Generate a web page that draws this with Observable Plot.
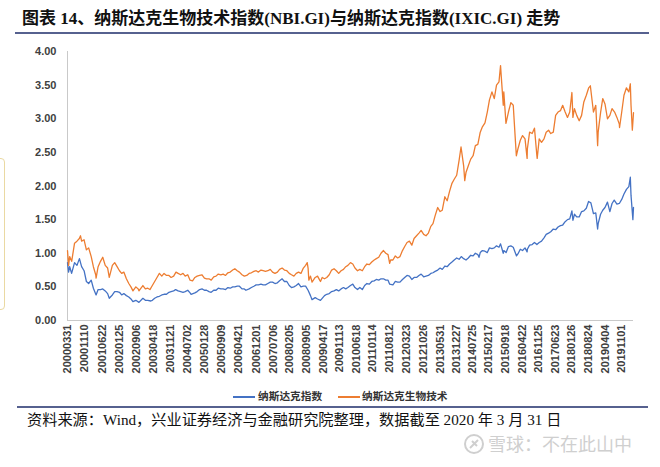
<!DOCTYPE html>
<html><head><meta charset="utf-8">
<script src="https://cdn.jsdelivr.net/npm/d3@7"></script>
<script src="https://cdn.jsdelivr.net/npm/@observablehq/plot@0.6"></script>
<style>
body{margin:0;background:#fff;}
#wrap{position:relative;width:660px;height:467px;overflow:hidden;background:#fff;}
#title{position:absolute;left:22px;top:8px;font:bold 17px "Liberation Serif","Noto Sans CJK SC",serif;color:#111;white-space:nowrap;line-height:22px;}
.rule{position:absolute;left:15px;width:634px;height:2px;background:#56618f;}
#chart{position:absolute;left:0;top:40px;}
#legend{position:absolute;top:388px;left:0;width:660px;height:16px;font:bold 10.7px "Noto Sans CJK SC",sans-serif;color:#333;}
.sw{position:absolute;top:8px;width:22px;height:2px;}
.lt{position:absolute;top:0;line-height:16px;white-space:nowrap;}
#source{position:absolute;left:27px;top:411px;font:15.2px "Liberation Serif","Noto Sans CJK SC",serif;color:#111;white-space:nowrap;line-height:18px;}
#wm{position:absolute;left:463px;top:432px;font:18px "Noto Sans CJK SC",sans-serif;color:#cfcfcf;white-space:nowrap;line-height:22px;}
#bracket{position:absolute;left:-10px;top:158px;width:13px;height:150px;border:1.5px solid #ead9a2;border-radius:4px;}
</style></head><body>
<div id="wrap">
  <div id="title">图表 14、纳斯达克生物技术指数(NBI.GI)与纳斯达克指数(IXIC.GI) 走势</div>
  <div class="rule" style="top:32px"></div>
  <div id="bracket"></div>
  <div id="chart"></div>
  <div id="legend"></div>
  <div class="rule" style="top:406px;left:17px;width:631px;height:1.5px"></div>
  <div id="source">资料来源：Wind，兴业证券经济与金融研究院整理，数据截至 2020 年 3 月 31 日</div>
  <div id="wm"><svg width="22" height="22" viewBox="0 0 22 22" style="vertical-align:-4px;margin-right:3px"><circle cx="11" cy="11" r="9" fill="none" stroke="#cfcfcf" stroke-width="2"/><path d="M7 15 L15 7 M9 8 L14 13" stroke="#cfcfcf" stroke-width="2" fill="none"/></svg>雪球：不在此山中</div>
</div>
<script>
const seriesNames = ["纳斯达克指数", "纳斯达克生物技术"];
const seriesColors = ["#4472C4", "#ED7D31"];
const yTicks = [0, 0.5, 1, 1.5, 2, 2.5, 3, 3.5, 4];
const xTickLabels = ["20000331","20001110","20010622","20020125","20020906","20030418","20031121","20040702","20050128","20050909","20060421","20061201","20070706","20080205","20080905","20090417","20091113","20100618","20110114","20110812","20120323","20121026","20130531","20131227","20140725","20150217","20150918","20160422","20161125","20170623","20180126","20180824","20190404","20191101"];

const ixicDates = ["2000-03-31","2000-04-14","2000-04-28","2000-05-23","2000-06-30","2000-07-31","2000-09-01","2000-09-29","2000-10-31","2000-11-30","2000-12-29","2001-01-31","2001-02-28","2001-04-04","2001-04-30","2001-05-31","2001-06-29","2001-07-31","2001-08-31","2001-09-21","2001-10-31","2001-11-30","2001-12-31","2002-01-31","2002-02-28","2002-03-28","2002-04-30","2002-05-31","2002-06-28","2002-07-23","2002-08-30","2002-10-09","2002-11-29","2002-12-31","2003-01-31","2003-03-11","2003-03-31","2003-04-30","2003-05-30","2003-06-30","2003-07-31","2003-08-29","2003-09-30","2003-10-31","2003-11-28","2003-12-31","2004-01-26","2004-02-27","2004-03-31","2004-04-30","2004-05-28","2004-06-30","2004-07-30","2004-08-12","2004-09-30","2004-10-29","2004-11-30","2004-12-31","2005-01-31","2005-02-28","2005-03-31","2005-04-28","2005-05-31","2005-06-30","2005-07-29","2005-08-31","2005-09-30","2005-10-31","2005-11-30","2005-12-30","2006-01-31","2006-02-28","2006-03-31","2006-04-28","2006-05-31","2006-06-30","2006-07-21","2006-08-31","2006-09-29","2006-10-31","2006-11-30","2006-12-29","2007-01-31","2007-02-28","2007-03-30","2007-04-30","2007-05-31","2007-06-29","2007-07-31","2007-08-31","2007-09-28","2007-10-31","2007-11-30","2007-12-31","2008-01-31","2008-02-29","2008-03-31","2008-04-30","2008-05-30","2008-06-30","2008-07-31","2008-08-29","2008-09-30","2008-10-31","2008-11-20","2008-12-31","2009-01-30","2009-03-09","2009-03-31","2009-04-30","2009-05-29","2009-06-30","2009-07-31","2009-08-31","2009-09-30","2009-10-30","2009-11-30","2009-12-31","2010-01-29","2010-02-26","2010-03-31","2010-04-30","2010-05-28","2010-06-30","2010-07-30","2010-08-31","2010-09-30","2010-10-29","2010-11-30","2010-12-31","2011-01-31","2011-02-28","2011-03-31","2011-04-29","2011-05-31","2011-06-30","2011-07-29","2011-08-19","2011-09-30","2011-10-31","2011-11-30","2011-12-30","2012-01-31","2012-02-29","2012-03-30","2012-04-30","2012-05-31","2012-06-29","2012-07-31","2012-08-31","2012-09-28","2012-10-31","2012-11-30","2012-12-31","2013-01-31","2013-02-28","2013-03-28","2013-04-30","2013-05-31","2013-06-28","2013-07-31","2013-08-30","2013-09-30","2013-10-31","2013-11-29","2013-12-31","2014-01-31","2014-02-28","2014-03-31","2014-04-30","2014-05-30","2014-06-30","2014-07-31","2014-08-29","2014-09-30","2014-10-15","2014-10-31","2014-11-28","2014-12-31","2015-01-30","2015-02-27","2015-03-31","2015-04-30","2015-05-29","2015-06-30","2015-07-20","2015-08-24","2015-08-31","2015-09-30","2015-10-30","2015-11-30","2015-12-31","2016-01-29","2016-02-11","2016-02-29","2016-03-31","2016-04-29","2016-05-31","2016-06-27","2016-06-30","2016-07-29","2016-08-31","2016-09-30","2016-10-31","2016-11-30","2016-12-30","2017-01-31","2017-02-28","2017-03-31","2017-04-28","2017-05-31","2017-06-30","2017-07-31","2017-08-31","2017-09-29","2017-10-31","2017-11-30","2017-12-29","2018-01-26","2018-02-08","2018-02-28","2018-03-29","2018-04-30","2018-05-31","2018-06-29","2018-07-31","2018-08-29","2018-09-28","2018-10-31","2018-11-30","2018-12-24","2018-12-31","2019-01-31","2019-02-28","2019-03-29","2019-04-30","2019-05-31","2019-06-28","2019-07-26","2019-08-30","2019-09-30","2019-10-31","2019-11-29","2019-12-31","2020-01-31","2020-02-19","2020-02-28","2020-03-23","2020-03-31"];
const ixicValues = [0.86,0.72,0.80,0.70,0.86,0.82,0.92,0.80,0.74,0.58,0.55,0.60,0.48,0.38,0.46,0.46,0.47,0.44,0.40,0.33,0.38,0.43,0.43,0.42,0.38,0.40,0.37,0.35,0.32,0.28,0.30,0.27,0.33,0.30,0.30,0.29,0.30,0.33,0.35,0.36,0.38,0.39,0.39,0.42,0.43,0.44,0.46,0.44,0.43,0.42,0.43,0.45,0.41,0.39,0.41,0.43,0.46,0.47,0.45,0.45,0.43,0.42,0.45,0.45,0.48,0.47,0.47,0.46,0.49,0.48,0.50,0.50,0.51,0.51,0.47,0.47,0.45,0.47,0.49,0.51,0.53,0.53,0.54,0.53,0.53,0.55,0.57,0.57,0.55,0.56,0.59,0.62,0.58,0.58,0.52,0.49,0.50,0.52,0.55,0.50,0.51,0.51,0.45,0.37,0.31,0.34,0.32,0.30,0.33,0.37,0.39,0.40,0.43,0.44,0.46,0.44,0.47,0.49,0.47,0.49,0.52,0.54,0.49,0.46,0.49,0.46,0.52,0.55,0.54,0.58,0.59,0.61,0.60,0.62,0.62,0.60,0.60,0.54,0.53,0.58,0.57,0.57,0.61,0.64,0.67,0.66,0.61,0.64,0.64,0.67,0.69,0.65,0.66,0.67,0.70,0.71,0.73,0.75,0.78,0.76,0.81,0.80,0.84,0.87,0.90,0.93,0.91,0.95,0.92,0.90,0.93,0.97,0.96,1.00,0.98,0.94,1.01,1.04,1.03,1.01,1.08,1.07,1.08,1.11,1.09,1.14,1.00,1.04,1.01,1.10,1.11,1.09,1.00,0.96,0.99,1.06,1.04,1.08,1.02,1.06,1.12,1.13,1.16,1.13,1.16,1.18,1.23,1.28,1.30,1.32,1.36,1.35,1.39,1.41,1.42,1.47,1.50,1.51,1.63,1.49,1.58,1.54,1.54,1.62,1.63,1.67,1.77,1.75,1.59,1.60,1.36,1.44,1.58,1.64,1.68,1.76,1.62,1.74,1.79,1.73,1.74,1.80,1.88,1.95,1.99,2.13,1.86,1.50,1.68];

const nbiDates = ["2000-03-31","2000-04-14","2000-04-28","2000-05-24","2000-06-30","2000-07-31","2000-08-31","2000-09-15","2000-09-29","2000-10-31","2000-11-30","2000-12-29","2001-01-31","2001-02-28","2001-03-30","2001-04-04","2001-04-30","2001-05-31","2001-06-29","2001-07-31","2001-08-31","2001-09-21","2001-10-31","2001-11-30","2001-12-31","2002-01-31","2002-02-28","2002-03-28","2002-04-30","2002-05-31","2002-06-28","2002-07-24","2002-08-30","2002-09-30","2002-10-09","2002-11-29","2002-12-31","2003-01-31","2003-02-28","2003-03-31","2003-04-30","2003-05-30","2003-06-30","2003-07-31","2003-08-29","2003-09-30","2003-10-31","2003-11-28","2003-12-31","2004-01-30","2004-02-27","2004-03-31","2004-04-30","2004-05-28","2004-06-30","2004-07-30","2004-08-31","2004-09-30","2004-10-29","2004-11-30","2004-12-31","2005-01-31","2005-02-28","2005-03-31","2005-04-29","2005-05-31","2005-06-30","2005-07-29","2005-08-31","2005-09-30","2005-10-31","2005-11-30","2005-12-30","2006-01-31","2006-02-28","2006-03-31","2006-04-28","2006-05-31","2006-06-30","2006-07-31","2006-08-31","2006-09-29","2006-10-31","2006-11-30","2006-12-29","2007-01-31","2007-02-28","2007-03-30","2007-04-30","2007-05-31","2007-06-29","2007-07-31","2007-08-31","2007-09-28","2007-10-31","2007-11-30","2007-12-31","2008-01-31","2008-02-29","2008-03-31","2008-04-30","2008-05-30","2008-06-30","2008-07-31","2008-08-29","2008-09-19","2008-09-30","2008-10-10","2008-10-31","2008-11-20","2008-12-31","2009-01-30","2009-02-27","2009-03-09","2009-03-31","2009-04-30","2009-05-29","2009-06-30","2009-07-31","2009-08-31","2009-09-30","2009-10-30","2009-11-30","2009-12-31","2010-01-29","2010-02-26","2010-03-31","2010-04-30","2010-05-28","2010-06-30","2010-07-30","2010-08-31","2010-09-30","2010-10-29","2010-11-30","2010-12-31","2011-01-31","2011-02-28","2011-03-31","2011-04-29","2011-05-31","2011-06-30","2011-07-29","2011-08-19","2011-08-31","2011-09-30","2011-10-31","2011-11-30","2011-12-30","2012-01-31","2012-02-29","2012-03-30","2012-04-30","2012-05-31","2012-06-29","2012-07-31","2012-08-31","2012-09-28","2012-10-31","2012-11-30","2012-12-31","2013-01-31","2013-02-28","2013-03-28","2013-04-30","2013-05-31","2013-06-28","2013-07-31","2013-08-30","2013-09-30","2013-10-31","2013-11-29","2013-12-31","2014-01-31","2014-02-25","2014-03-31","2014-04-14","2014-04-30","2014-05-30","2014-06-30","2014-07-31","2014-08-29","2014-09-30","2014-10-31","2014-11-28","2014-12-31","2015-01-30","2015-02-27","2015-03-31","2015-04-30","2015-05-29","2015-06-30","2015-07-20","2015-07-31","2015-08-24","2015-08-31","2015-09-28","2015-10-30","2015-11-30","2015-12-31","2016-01-29","2016-02-09","2016-02-29","2016-03-31","2016-04-29","2016-05-31","2016-06-27","2016-06-30","2016-07-29","2016-08-31","2016-09-30","2016-10-31","2016-11-04","2016-11-30","2016-12-30","2017-01-31","2017-02-28","2017-03-31","2017-04-28","2017-05-31","2017-06-30","2017-07-31","2017-08-31","2017-09-29","2017-10-31","2017-11-30","2017-12-29","2018-01-26","2018-02-08","2018-02-28","2018-03-29","2018-04-30","2018-05-31","2018-06-29","2018-07-31","2018-08-31","2018-09-21","2018-10-31","2018-11-30","2018-12-24","2018-12-31","2019-01-31","2019-02-28","2019-03-29","2019-04-30","2019-05-31","2019-06-28","2019-07-31","2019-08-30","2019-09-30","2019-10-03","2019-10-31","2019-11-29","2019-12-31","2020-01-31","2020-02-19","2020-02-28","2020-03-16","2020-03-31"];
const nbiValues = [1.04,0.82,0.95,0.88,1.15,1.18,1.22,1.26,1.18,1.20,1.05,1.08,0.95,0.80,0.68,0.63,0.80,0.88,0.94,0.82,0.78,0.64,0.82,0.86,0.80,0.74,0.70,0.72,0.62,0.55,0.50,0.44,0.50,0.47,0.44,0.52,0.47,0.48,0.46,0.52,0.58,0.64,0.70,0.66,0.70,0.67,0.67,0.64,0.66,0.72,0.70,0.68,0.70,0.66,0.68,0.60,0.59,0.64,0.66,0.67,0.68,0.63,0.62,0.62,0.60,0.65,0.66,0.69,0.68,0.69,0.67,0.71,0.72,0.75,0.77,0.74,0.72,0.68,0.66,0.67,0.70,0.71,0.73,0.74,0.72,0.75,0.74,0.73,0.74,0.76,0.72,0.70,0.72,0.76,0.78,0.75,0.74,0.70,0.68,0.66,0.70,0.72,0.70,0.78,0.82,0.86,0.78,0.60,0.66,0.57,0.64,0.66,0.60,0.58,0.64,0.62,0.64,0.68,0.75,0.77,0.74,0.70,0.74,0.76,0.80,0.82,0.86,0.84,0.78,0.74,0.76,0.74,0.80,0.84,0.83,0.87,0.90,0.92,0.94,1.00,1.04,1.00,0.98,0.85,0.90,0.90,0.96,0.93,0.95,1.04,1.10,1.16,1.18,1.12,1.22,1.26,1.30,1.34,1.28,1.26,1.30,1.40,1.44,1.56,1.68,1.62,1.64,1.84,1.78,1.92,2.04,2.10,2.16,2.38,2.58,2.30,2.08,2.20,2.30,2.40,2.45,2.60,2.62,2.80,2.88,2.94,3.10,3.28,3.40,3.30,3.50,3.55,3.79,3.60,3.20,3.40,2.93,3.10,3.24,3.20,2.65,2.45,2.55,2.68,2.75,2.70,2.41,2.55,2.80,2.78,2.86,2.45,2.41,2.70,2.65,2.70,2.80,2.83,2.78,2.80,3.05,3.10,3.12,3.20,3.10,3.02,3.10,3.39,3.02,3.15,3.05,2.97,3.05,3.25,3.35,3.46,3.49,3.10,3.20,2.60,2.80,3.09,3.30,3.22,3.00,3.05,3.15,3.10,3.02,2.92,2.87,3.10,3.35,3.46,3.40,3.52,3.20,2.83,3.09];

const parse = d3.utcParse("%Y-%m-%d");
const parseTick = d3.utcParse("%Y%m%d");
const rows = [];
ixicDates.forEach((d, i) => rows.push({date: parse(d), value: ixicValues[i], series: seriesNames[0]}));
nbiDates.forEach((d, i) => rows.push({date: parse(d), value: nbiValues[i], series: seriesNames[1]}));
const x0 = parse("2000-03-31"), x1 = parse("2020-03-31");

const chart = Plot.plot({
  width: 660, height: 340,
  marginLeft: 67, marginRight: 27, marginTop: 11, marginBottom: 60,
  style: {fontFamily: "'Liberation Sans', Arial, sans-serif", fontSize: "11px", fontWeight: "bold", color: "#404040", background: "transparent"},
  x: {type: "utc", domain: [x0, x1]},
  y: {domain: [0, 4]},
  color: {domain: seriesNames, range: seriesColors},
  marks: [
    Plot.axisY({ticks: yTicks, tickFormat: d => d.toFixed(2), tickSize: 0, tickPadding: 11, label: null}),
    Plot.axisX({ticks: xTickLabels.map(parseTick), tickFormat: d3.utcFormat("%Y%m%d"), tickRotate: -90, tickSize: 0, tickPadding: 4, label: null}),
    Plot.ruleX([x0], {stroke: "#c9c9c9", strokeWidth: 1}),
    Plot.ruleY([0], {stroke: "#c9c9c9", strokeWidth: 1}),
    Plot.lineY(rows, {x: "date", y: "value", z: "series", stroke: "series", strokeWidth: 1.3})
  ]
});
document.getElementById("chart").appendChild(chart);

const legend = document.getElementById("legend");
const legendPos = [[233, 258], [338, 362]];
seriesNames.forEach((name, i) => {
  const sw = document.createElement("div");
  sw.className = "sw"; sw.style.left = legendPos[i][0] + "px"; sw.style.background = seriesColors[i];
  const lt = document.createElement("div");
  lt.className = "lt"; lt.style.left = legendPos[i][1] + "px"; lt.textContent = name;
  legend.appendChild(sw); legend.appendChild(lt);
});
</script>
</body></html>
